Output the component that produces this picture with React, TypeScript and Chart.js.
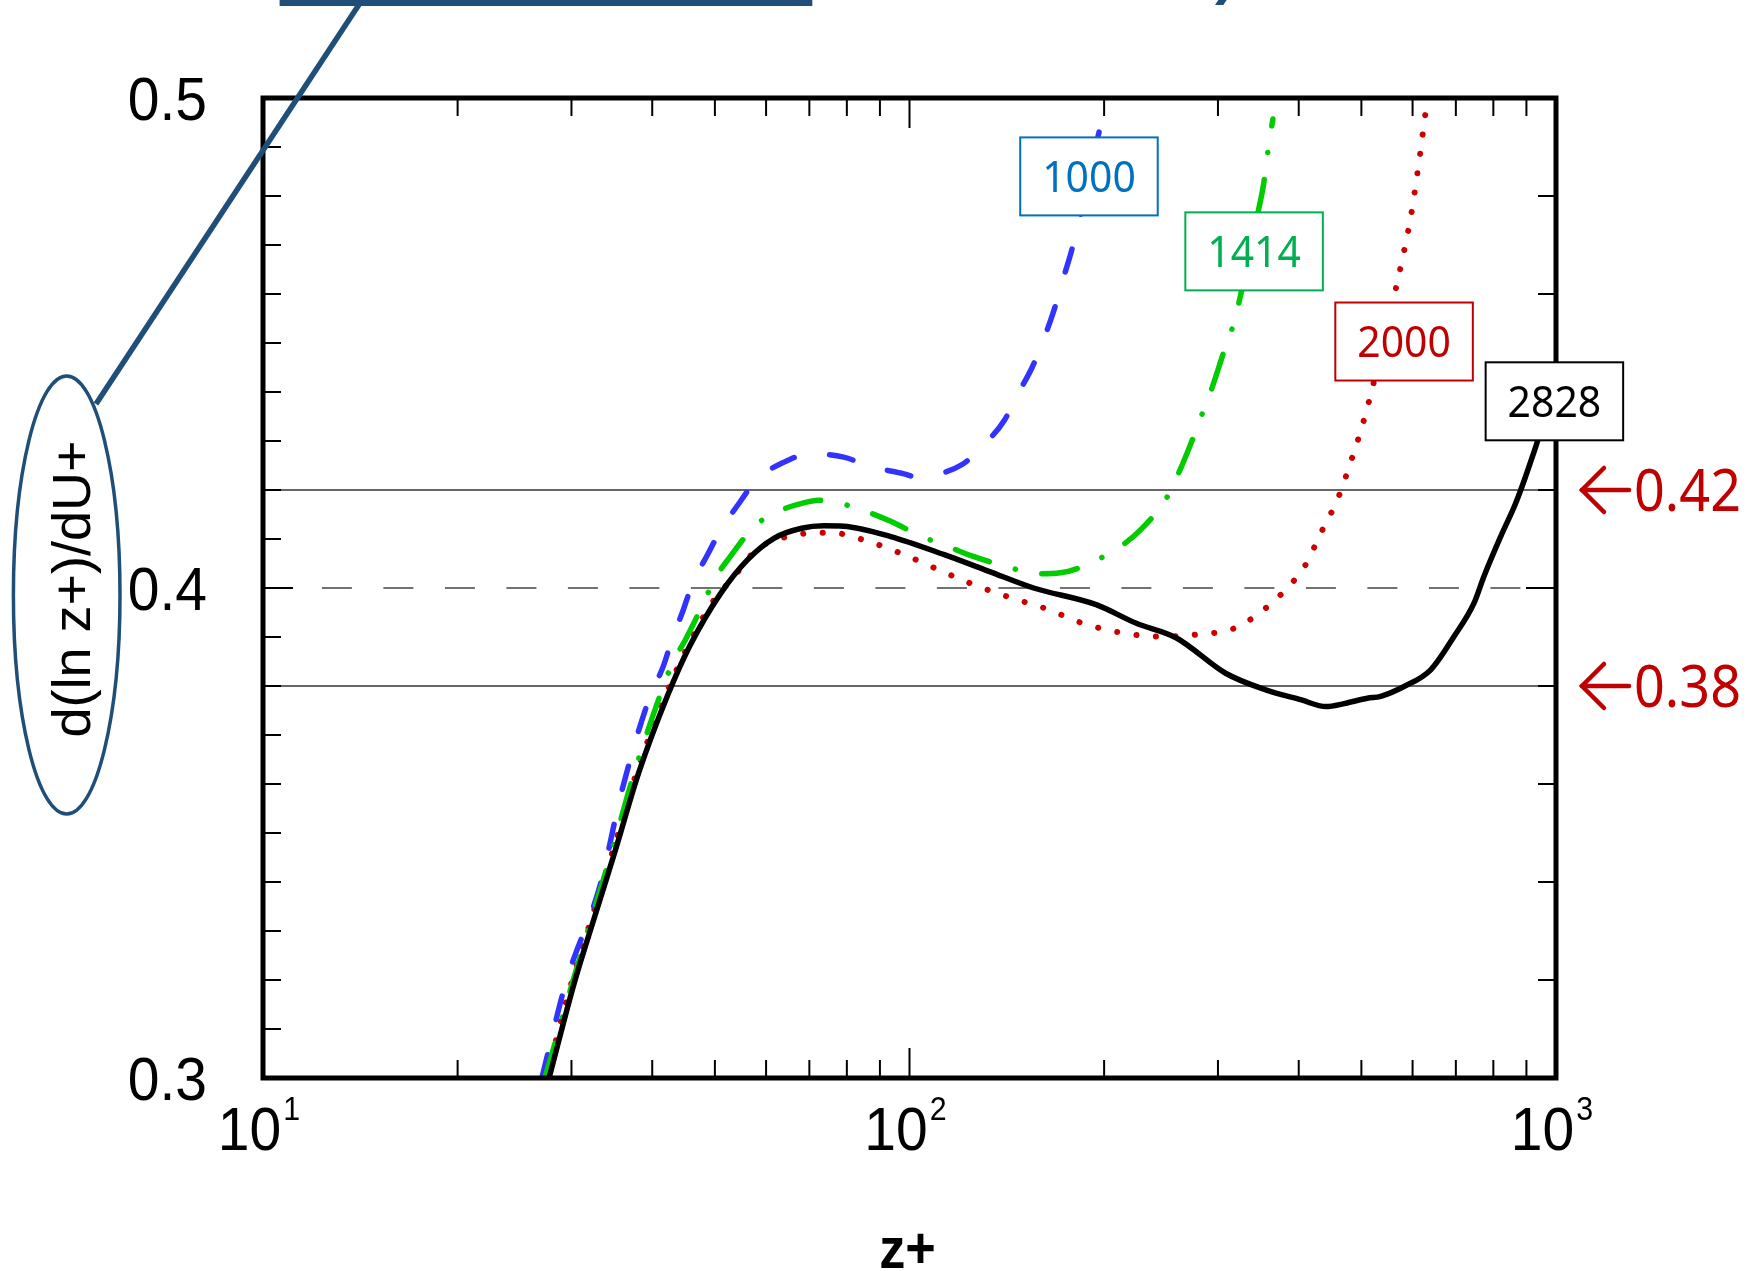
import { useEffect, useRef } from "react";
import { Chart, registerables } from "chart.js";

Chart.register(...registerables);

// ---------------------------------------------------------------------------
// Indicator function d(ln z+)/dU+ versus z+ for four friction Reynolds numbers
// ---------------------------------------------------------------------------
const zRe1000 = [
  27.0, 29.4, 33.3, 35.8, 39.6, 41.6, 42.9, 44.7, 46.1, 48.7,
  51.1, 54.5, 58.0, 63.8, 70.3, 79.1, 87.1, 98.1, 102.9, 107.9,
  120.6, 129.6, 140.3, 146.4, 155.0, 161.2, 167.4, 172.2, 178.0, 182.6,
  189.5, 196.3, 201.4,
];
const gRe1000 = [
  0.300, 0.3194, 0.3398, 0.358, 0.3776, 0.384, 0.3894, 0.3956, 0.4007, 0.4068,
  0.4119, 0.4173, 0.4221, 0.4256, 0.4274, 0.4267, 0.4248, 0.4233, 0.4226, 0.4229,
  0.4252, 0.4289, 0.4343, 0.4391, 0.4452, 0.4507, 0.4568, 0.4624, 0.4687, 0.4745,
  0.484, 0.4929, 0.499,
];

const zRe1414 = [
  27.3, 30.1, 32.3, 34.7, 37.5, 41.6, 43.1, 45.0, 48.0, 49.9,
  52.8, 57.6, 61.8, 67.0, 72.5, 77.9, 85.0, 93.5, 104.5, 115.0,
  124.5, 143.6, 156.9, 171.2, 197.5, 213.8, 227.9, 250.7, 260.9, 271.5,
  283.9, 293.1, 308.3, 316.3, 323.6, 335.0, 346.7, 352.5, 359.3, 364.8,
];
const gRe1414 = [
  0.300, 0.3194, 0.333, 0.3466, 0.3622, 0.3799, 0.385, 0.3894, 0.3969, 0.4017,
  0.4064, 0.4126, 0.4153, 0.417, 0.4179, 0.4173, 0.4158, 0.4136, 0.4105, 0.4084,
  0.4066, 0.4041, 0.4029, 0.4031, 0.4061, 0.4088, 0.4119, 0.4187, 0.4235, 0.429,
  0.4357, 0.4405, 0.4493, 0.4534, 0.4585, 0.468, 0.4772, 0.482, 0.4901, 0.4957,
];

const zRe2000 = [
  27.4, 30.0, 32.3, 34.8, 37.8, 41.9, 45.4, 49.5, 53.6, 58.0,
  65.9, 75.5, 86.4, 98.1, 111.4, 125.6, 143.6, 163.2, 185.3, 212.1,
  242.8, 278.0, 318.3, 355.7, 391.4, 408.5, 433.5, 460.6, 481.3, 501.8,
  520.0, 541.0, 562.6, 578.9, 595.2, 607.6, 619.2, 630.3,
];
const gRe2000 = [
  0.300, 0.3194, 0.333, 0.3466, 0.3622, 0.3779, 0.3881, 0.397, 0.4024, 0.4078,
  0.4107, 0.4113, 0.4095, 0.4068, 0.4036, 0.4007, 0.398, 0.3957, 0.3928, 0.3909,
  0.3901, 0.3905, 0.3918, 0.3959, 0.4012, 0.4044, 0.4114, 0.4185, 0.4257, 0.4332,
  0.4408, 0.4505, 0.4599, 0.4673, 0.4752, 0.4828, 0.4906, 0.4984,
];

const zRe2828 = [
  27.7, 30.3, 32.6, 35.1, 38.1, 42.2, 45.7, 51.1, 56.2, 61.8,
  68.1, 73.7, 79.1, 93.5, 113.2, 132.7, 155.6, 194.4, 224.3, 258.8,
  308.3, 355.7, 402.7, 440.8, 470.0, 510.8, 535.7, 582.0, 640.0, 695.4,
  746.7, 773.8, 821.2, 866.2, 897.6, 919.3, 935.8, 1000.0,
];
const gRe2828 = [
  0.300, 0.3194, 0.333, 0.3466, 0.3622, 0.3779, 0.3881, 0.399, 0.4058, 0.4102,
  0.4122, 0.4127, 0.4126, 0.4105, 0.4068, 0.4034, 0.4, 0.3966, 0.3928, 0.3898,
  0.3826, 0.3792, 0.3772, 0.3758, 0.3764, 0.3775, 0.3779, 0.3799, 0.3833, 0.3901,
  0.3969, 0.4024, 0.4105, 0.4173, 0.4228, 0.4268, 0.4299, 0.445,
];

const reTauLabels = ["1000", "1414", "2000", "2828"];
const referenceLevels = [0.42, 0.38];
const referenceLabels = ["0.42", "0.38"];
const dashedLevel = 0.4;
const yTickValues = [0.3, 0.4, 0.5];
const yTickLabels = ["0.3", "0.4", "0.5"];
const xDecades = [1, 2, 3];
const xAxisTitle = "z+";
const yAxisTitle = "d(ln z+)/dU+";

// ---------------------------------------------------------------------------
// Layout and styling
// ---------------------------------------------------------------------------
const W = 1752;
const H = 1271;
const ARIAL = '"Liberation Sans", Arial, sans-serif';
const SANS = '"Noto Sans", "Open Sans", sans-serif';
const NAVY = "#1F4E79";
const ANNOT_RED = "#C00000";
const CURVE_W = 5.5;

// label boxes placed in data space (z+, indicator), one per Re_tau
const labelBoxZ = [189.5, 341.2, 582.1, 994.3];
const labelBoxG = [0.484, 0.4687, 0.4503, 0.4381];
const labelBoxColors = ["#0070C0", "#00B050", "#C00000", "#000000"];
const BOX_W = 137.5;
const BOX_H = 78;

function text(
  ctx: CanvasRenderingContext2D,
  s: string,
  x: number,
  y: number,
  font: string,
  color: string,
  align: CanvasTextAlign,
  sx = 1
) {
  ctx.save();
  ctx.translate(x, y);
  ctx.scale(sx, 1);
  ctx.font = font;
  ctx.fillStyle = color;
  ctx.textAlign = align;
  ctx.textBaseline = "alphabetic";
  ctx.fillText(s, 0, 0);
  ctx.restore();
}

function line(ctx: CanvasRenderingContext2D, x1: number, y1: number, x2: number, y2: number) {
  ctx.beginPath();
  ctx.moveTo(x1, y1);
  ctx.lineTo(x2, y2);
  ctx.stroke();
}

const decorPlugin = {
  id: "decor",
  beforeDatasetsDraw(chart: any) {
    const { ctx, chartArea: a } = chart;
    const y = chart.scales.y;
    ctx.save();
    ctx.strokeStyle = "#333";
    ctx.lineWidth = 1.5;
    for (const v of referenceLevels) {
      const py = y.getPixelForValue(v);
      line(ctx, a.left, py, a.right, py);
    }
    ctx.strokeStyle = "#444";
    ctx.lineWidth = 1.4;
    ctx.setLineDash([30, 31.5]);
    ctx.lineDashOffset = 2.6;
    const pd = y.getPixelForValue(dashedLevel);
    line(ctx, a.left, pd, a.right, pd);
    ctx.restore();
  },
  afterDatasetsDraw(chart: any) {
    const { ctx, chartArea: a } = chart;
    const x = chart.scales.x;
    const y = chart.scales.y;
    ctx.save();

    // frame
    ctx.strokeStyle = "#000";
    ctx.lineWidth = 5;
    ctx.lineJoin = "miter";
    ctx.strokeRect(a.left, a.top, a.right - a.left, a.bottom - a.top);

    // inward ticks
    ctx.lineWidth = 2;
    for (let d = 1; d <= 2; d++) {
      for (let m = 1; m <= 9; m++) {
        if (d === 1 && m === 1) continue;
        const v = m * Math.pow(10, d);
        const px = x.getPixelForValue(v);
        const len = m === 1 ? 30 : 18;
        line(ctx, px, a.bottom, px, a.bottom - len);
        line(ctx, px, a.top, px, a.top + len);
      }
    }
    for (let k = 1; k < 20; k++) {
      const v = 0.3 + k * 0.01;
      const py = y.getPixelForValue(v);
      const len = k === 10 ? 30 : 18;
      line(ctx, a.left, py, a.left + len, py);
      if (k % 2 === 0) line(ctx, a.right, py, a.right - len, py);
    }

    // tick labels
    yTickValues.forEach((v, i) => {
      const py = y.getPixelForValue(v);
      text(ctx, yTickLabels[i], a.left - 56, py + 22, `62px ${ARIAL}`, "#000", "right", 0.92);
    });
    xDecades.forEach((d) => {
      const px = x.getPixelForValue(Math.pow(10, d));
      ctx.font = `62px ${ARIAL}`;
      const w1 = ctx.measureText("10").width * 0.92;
      ctx.font = `33px ${ARIAL}`;
      const w2 = ctx.measureText(String(d)).width * 0.92;
      const total = w1 + 2 + w2;
      const x0 = px - 4 - total / 2;
      text(ctx, "10", x0, a.bottom + 72, `62px ${ARIAL}`, "#000", "left", 0.92);
      text(ctx, String(d), x0 + w1 + 2, a.bottom + 42, `33px ${ARIAL}`, "#000", "left", 0.92);
    });

    // Re_tau label boxes
    reTauLabels.forEach((lab, i) => {
      const cx = x.getPixelForValue(labelBoxZ[i]);
      const cy = y.getPixelForValue(labelBoxG[i]);
      ctx.fillStyle = "#fff";
      ctx.fillRect(cx - BOX_W / 2, cy - BOX_H / 2, BOX_W, BOX_H);
      ctx.strokeStyle = labelBoxColors[i];
      ctx.lineWidth = 2;
      ctx.strokeRect(cx - BOX_W / 2, cy - BOX_H / 2, BOX_W, BOX_H);
      text(ctx, lab, cx, cy + 15.7, `44px ${SANS}`, labelBoxColors[i], "center", 0.93);
    });

    ctx.restore();
  },
  afterDraw(chart: any) {
    const { ctx, chartArea: a } = chart;
    const y = chart.scales.y;
    ctx.save();

    // reference-level call-outs on the right
    referenceLevels.forEach((v, i) => {
      const py = y.getPixelForValue(v);
      ctx.strokeStyle = ANNOT_RED;
      ctx.lineWidth = 4.5;
      ctx.lineCap = "round";
      ctx.lineJoin = "miter";
      const tip = a.right + 26;
      line(ctx, tip, py, tip + 47, py);
      ctx.beginPath();
      ctx.moveTo(tip + 22, py - 22);
      ctx.lineTo(tip, py);
      ctx.lineTo(tip + 22, py + 22);
      ctx.stroke();
      text(ctx, referenceLabels[i], tip + 52, py + 21, `58px ${SANS}`, ANNOT_RED, "left", 0.93);
    });

    // axis titles
    text(ctx, xAxisTitle, (a.left + a.right) / 2 - 2, 1268, `bold 58px ${ARIAL}`, "#000", "center", 0.9);
    ctx.save();
    ctx.translate(90, 589);
    ctx.rotate(-Math.PI / 2);
    ctx.font = `54px ${ARIAL}`;
    ctx.fillStyle = "#000";
    ctx.textAlign = "center";
    ctx.textBaseline = "alphabetic";
    ctx.fillText(yAxisTitle, 0, 0);
    ctx.restore();

    // ellipse highlight around the y title with its leader line
    ctx.strokeStyle = NAVY;
    ctx.lineWidth = 3.5;
    ctx.beginPath();
    ctx.ellipse(66.7, 595, 53.3, 219, 0, 0, Math.PI * 2);
    ctx.stroke();
    ctx.lineWidth = 5.5;
    ctx.lineCap = "butt";
    line(ctx, 362, 0, 96, 404);
    ctx.fillStyle = NAVY;
    ctx.fillRect(279.6, 0, 532.7, 6);
    ctx.beginPath();
    ctx.moveTo(1218.3, 0);
    ctx.lineTo(1226.7, 0);
    ctx.lineTo(1223.3, 5);
    ctx.lineTo(1215, 5);
    ctx.closePath();
    ctx.fill();

    ctx.restore();
  },
};

function pts(xs: number[], ys: number[]) {
  return xs.map((v, i) => ({ x: v, y: ys[i] }));
}

export default function App() {
  const ref = useRef<HTMLCanvasElement | null>(null);

  useEffect(() => {
    document.body.style.margin = "0";
    document.body.style.overflow = "hidden";
    const canvas = ref.current;
    if (!canvas) return;
    const common = {
      showLine: true,
      pointRadius: 0,
      borderWidth: CURVE_W,
      borderCapStyle: "round" as const,
      borderJoinStyle: "round" as const,
      cubicInterpolationMode: "monotone" as const,
      fill: false,
    };
    const chart = new Chart(canvas, {
      type: "scatter",
      data: {
        datasets: [
          { ...common, label: reTauLabels[3], data: pts(zRe2828, gRe2828), borderColor: "#000000" },
          { ...common, label: reTauLabels[1], data: pts(zRe1414, gRe1414), borderColor: "#00CC00", borderDash: [36, 27, 0.1, 27] },
          { ...common, label: reTauLabels[0], data: pts(zRe1000, gRe1000), borderColor: "#3333FF", borderDash: [24, 36] },
          { ...common, label: reTauLabels[2], data: pts(zRe2000, gRe2000), borderColor: "#CC0000", borderWidth: 6, borderDash: [0.1, 19.4] },
        ],
      },
      options: {
        responsive: false,
        animation: false,
        devicePixelRatio: 1,
        events: [],
        layout: { padding: { left: 263, top: 98, right: 196, bottom: 193 } },
        plugins: { legend: { display: false }, tooltip: { enabled: false } },
        scales: {
          x: { type: "logarithmic", min: 10, max: 1000, display: false },
          y: { type: "linear", min: 0.3, max: 0.5, display: false },
        },
      },
      plugins: [decorPlugin],
    });
    return () => chart.destroy();
  }, []);

  return <canvas ref={ref} width={W} height={H} style={{ display: "block", background: "#fff" }} />;
}
